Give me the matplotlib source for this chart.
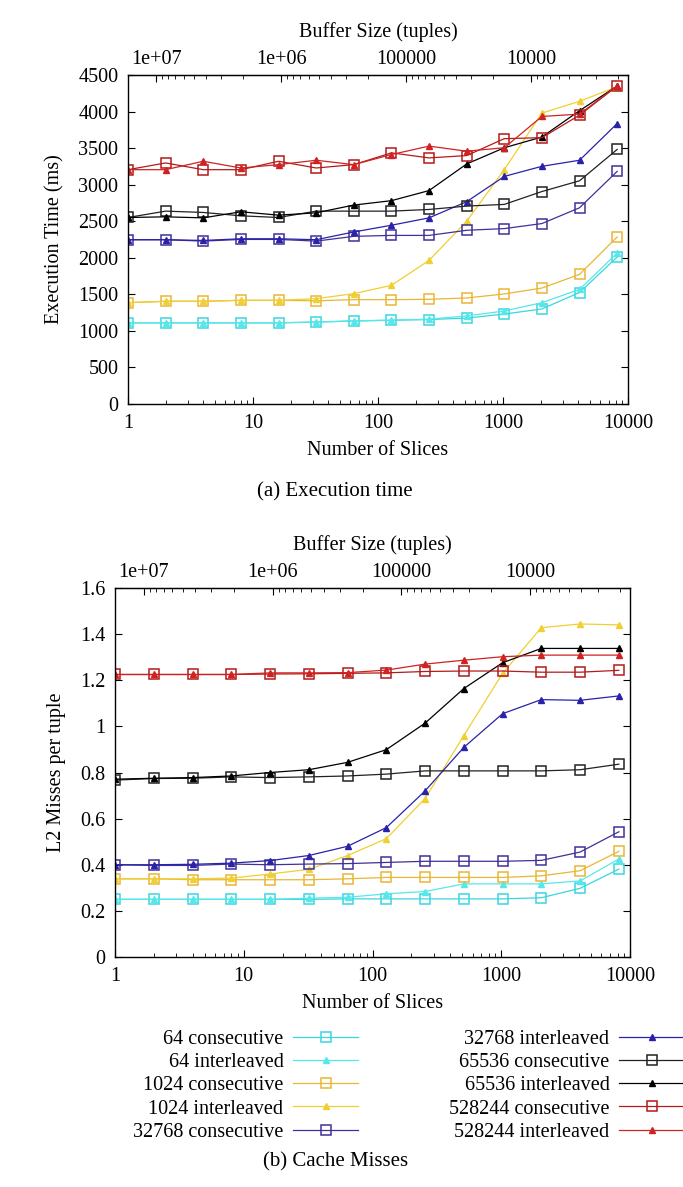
import matplotlib
matplotlib.use('Agg')
import matplotlib.pyplot as plt
from matplotlib.ticker import FuncFormatter, NullFormatter, FixedLocator

plt.rcParams['font.family'] = ['Liberation Serif', 'DejaVu Serif']
plt.rcParams['font.size'] = 14.5

W, H = 683, 1187
TOTAL = 2 ** 24  # buffer size = TOTAL / slices

slices = [1, 2, 4, 8, 16, 32, 64, 128, 256, 512, 1024, 2048, 4096, 8192]
buffer_ticks = [1e7, 1e6, 1e5, 1e4]

series_names = ['64 consecutive', '64 interleaved', '1024 consecutive', '1024 interleaved',
                '32768 consecutive', '32768 interleaved', '65536 consecutive', '65536 interleaved',
                '528244 consecutive', '528244 interleaved']

# execution time (ms)
time_64_cons = [1110, 1110, 1110, 1110, 1110, 1120, 1135, 1145, 1155, 1175, 1230, 1300, 1525, 2010]
time_64_int = [1110, 1110, 1110, 1110, 1110, 1122, 1137, 1148, 1160, 1205, 1272, 1386, 1568, 2065]
time_1024_cons = [1386, 1405, 1405, 1418, 1418, 1412, 1427, 1427, 1432, 1450, 1505, 1586, 1773, 2285]
time_1024_int = [1386, 1405, 1405, 1418, 1418, 1441, 1509, 1623, 1964, 2500, 3205, 3980, 4140, 4340]
time_32768_cons = [2247, 2247, 2228, 2251, 2251, 2228, 2293, 2306, 2306, 2376, 2399, 2468, 2684, 3182]
time_32768_int = [2247, 2247, 2237, 2260, 2260, 2247, 2353, 2445, 2546, 2767, 3113, 3251, 3334, 3836]
time_65536_cons = [2551, 2638, 2620, 2574, 2551, 2638, 2638, 2638, 2661, 2707, 2730, 2906, 3053, 3482]
time_65536_int = [2551, 2560, 2546, 2629, 2583, 2615, 2721, 2781, 2919, 3283, 3505, 3652, 4012, 4350]
time_528244_cons = [3205, 3297, 3205, 3205, 3320, 3228, 3274, 3435, 3366, 3398, 3629, 3643, 3951, 4350]
time_528244_int = [3205, 3205, 3320, 3228, 3274, 3334, 3274, 3412, 3527, 3458, 3505, 3933, 3965, 4350]

# L2 misses per tuple
miss_64_cons = [0.25, 0.25, 0.25, 0.25, 0.25, 0.25, 0.252, 0.252, 0.252, 0.252, 0.252, 0.257, 0.298, 0.381]
miss_64_int = [0.25, 0.25, 0.25, 0.25, 0.25, 0.255, 0.259, 0.274, 0.284, 0.317, 0.317, 0.317, 0.33, 0.425]
miss_1024_cons = [0.339, 0.339, 0.335, 0.335, 0.335, 0.335, 0.339, 0.345, 0.345, 0.345, 0.345, 0.352, 0.374, 0.458]
miss_1024_int = [0.339, 0.339, 0.339, 0.342, 0.36, 0.38, 0.44, 0.513, 0.687, 0.96, 1.23, 1.428, 1.444, 1.44]
miss_32768_cons = [0.4, 0.397, 0.397, 0.403, 0.4, 0.403, 0.405, 0.41, 0.415, 0.415, 0.415, 0.419, 0.455, 0.543]
miss_32768_int = [0.4, 0.4, 0.402, 0.407, 0.418, 0.44, 0.48, 0.561, 0.72, 0.909, 1.055, 1.116, 1.113, 1.132]
miss_65536_cons = [0.767, 0.774, 0.775, 0.781, 0.778, 0.781, 0.785, 0.793, 0.807, 0.807, 0.807, 0.807, 0.812, 0.836]
miss_65536_int = [0.771, 0.775, 0.778, 0.785, 0.8, 0.812, 0.844, 0.899, 1.014, 1.164, 1.276, 1.338, 1.338, 1.338]
miss_528244_cons = [1.225, 1.225, 1.225, 1.225, 1.227, 1.228, 1.23, 1.232, 1.238, 1.24, 1.24, 1.235, 1.235, 1.243]
miss_528244_int = [1.225, 1.225, 1.225, 1.225, 1.232, 1.232, 1.233, 1.244, 1.27, 1.287, 1.302, 1.309, 1.309, 1.309]

time_data = [time_64_cons, time_64_int, time_1024_cons, time_1024_int, time_32768_cons,
             time_32768_int, time_65536_cons, time_65536_int, time_528244_cons, time_528244_int]
miss_data = [miss_64_cons, miss_64_int, miss_1024_cons, miss_1024_int, miss_32768_cons,
             miss_32768_int, miss_65536_cons, miss_65536_int, miss_528244_cons, miss_528244_int]

colors = ['#3ad6e0', '#55e8ea', '#e9b635', '#f0d030', '#40309a',
          '#2a22a8', '#222222', '#000000', '#b41a1a', '#d02222']
markers = ['s', '^'] * 5


def buf_fmt(v, pos):
    if v >= 1e6:
        return f'{v:.0e}'
    return f'{v:.0f}'


def setup_axes(ax, ylim, yticks, yticklabels, ylabel):
    ax.set_xscale('log')
    ax.set_xlim(1, 10000)
    ax.set_ylim(*ylim)
    ax.set_yticks(yticks)
    ax.set_yticklabels(yticklabels)
    ax.set_xticks([1, 10, 100, 1000, 10000])
    ax.set_xticklabels(['1', '10', '100', '1000', '10000'])
    ax.tick_params(axis='both', which='major', direction='in', length=5, width=0.8, pad=7)
    ax.tick_params(axis='x', which='minor', direction='in', length=3, width=0.6)
    ax.tick_params(axis='y', right=True)
    ax.tick_params(axis='x', top=False, which='both')
    ax.set_xlabel('Number of Slices', labelpad=6)
    ax.set_ylabel(ylabel, labelpad=10)
    for s in ax.spines.values():
        s.set_linewidth(1.0)
    sec = ax.secondary_xaxis('top', functions=(lambda x: TOTAL / x, lambda b: TOTAL / b))
    sec.xaxis.set_major_locator(FixedLocator(buffer_ticks))
    sec.xaxis.set_major_formatter(FuncFormatter(buf_fmt))
    sec.xaxis.set_minor_formatter(NullFormatter())
    sec.tick_params(which='major', direction='in', length=5, width=0.8, pad=4)
    sec.tick_params(which='minor', direction='in', length=3, width=0.6)
    sec.set_xlabel('Buffer Size (tuples)', labelpad=10)


fig = plt.figure(figsize=(W / 100, H / 100), dpi=100)

ax1 = fig.add_axes([128 / W, 1 - 404 / H, 500 / W, 329 / H])
ax2 = fig.add_axes([115 / W, 1 - 957 / H, 515 / W, 369 / H])

for ax, data in ((ax1, time_data), (ax2, miss_data)):
    for name, vals, c, m in zip(series_names, data, colors, markers):
        if m == 's':
            ax.plot(slices, vals, color=c, lw=0.9, marker='s', ms=7,
                    mfc='none', mec=c, mew=1.1, label=name)
        else:
            ax.plot(slices, vals, color=c, lw=0.9, marker='^', ms=5,
                    mfc=c, mec=c, label=name)

setup_axes(ax1, (0, 4500), list(range(0, 4501, 500)),
           [str(v) for v in range(0, 4501, 500)], 'Execution Time (ms)')
setup_axes(ax2, (0, 1.6), [0, 0.2, 0.4, 0.6, 0.8, 1.0, 1.2, 1.4, 1.6],
           ['0', '0.2', '0.4', '0.6', '0.8', '1', '1.2', '1.4', '1.6'], 'L2 Misses per tuple')

fig.text(335 / W, 1 - 492 / H, '(a) Execution time', ha='center', va='center', fontsize=15)
fig.text(336 / W, 1 - 1162 / H, '(b) Cache Misses', ha='center', va='center', fontsize=15)

handles, labels = ax2.get_legend_handles_labels()
leg1 = fig.legend(handles[:5], labels[:5], loc='upper right',
                  bbox_to_anchor=(368 / W, 1 - 1020 / H), frameon=False,
                  markerfirst=False, handlelength=3.2, handletextpad=0.5,
                  labelspacing=0.2, borderpad=0, fontsize=14.5)
leg2 = fig.legend(handles[5:], labels[5:], loc='upper right',
                  bbox_to_anchor=(694 / W, 1 - 1020 / H), frameon=False,
                  markerfirst=False, handlelength=3.2, handletextpad=0.5,
                  labelspacing=0.2, borderpad=0, fontsize=14.5)

fig.savefig('out.png', dpi=100)
plt.close(fig)
